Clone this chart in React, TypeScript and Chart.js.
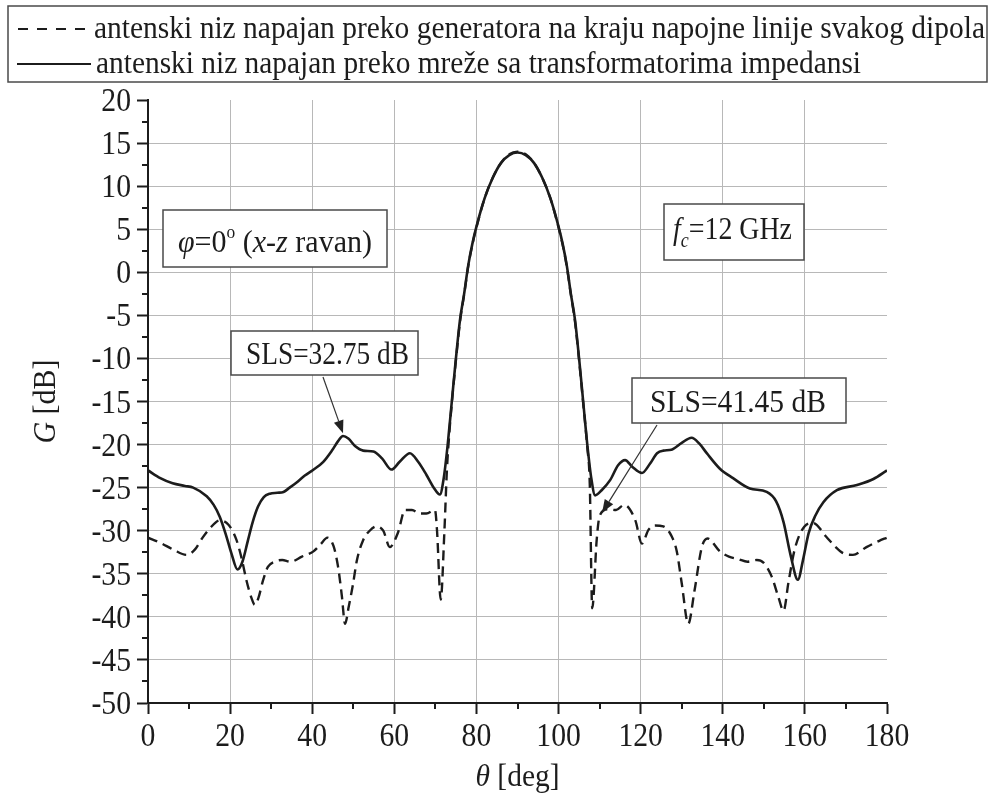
import React, { useEffect, useRef } from "react";
import { Chart, registerables } from "chart.js";
Chart.register(...registerables);

// ---- data ----
const thetaSolid = [
  0, 3, 6, 9, 11, 14.3, 16, 17.5, 19, 20.3, 21.8, 23, 24.3, 25.5, 26.8, 28.2, 29.7, 31.5, 33, 34.5,
  36.2, 38.2, 40.2, 42.7, 44.8, 46.3, 47.5, 48.8, 50.5, 52.4, 54.9, 57, 59.3, 61.3, 63.8, 65.8, 67.8, 69.6, 71.1, 72,
  73, 74, 75, 76, 77, 78, 79, 80, 82, 84, 86, 88, 90, 92, 94, 96, 98, 100, 101, 102,
  103, 104, 105, 106, 107, 108, 108.9, 110.5, 112.6, 114.5, 116.2, 118, 120.3, 122.3, 124, 125.5, 127.5, 130, 132.4, 134.3,
  136.1, 139.3, 142.5, 146.6, 150.7, 153, 154.8, 156.5, 158.3, 159.5, 160.9, 162.5, 164.5, 167.8, 172.7, 176.7, 180,
];
const gainSolid = [
  -23.0, -23.9, -24.5, -24.8, -25.0, -26.0, -27.0, -28.4, -30.5, -32.6, -34.5, -33.6, -31.2, -29.0, -27.2, -26.1, -25.7, -25.6, -25.5, -25.0,
  -24.4, -23.6, -22.95, -22.0, -20.7, -19.6, -19.0, -19.3, -20.2, -20.7, -20.8, -21.6, -22.9, -22.0, -21.0, -22.0, -23.5, -25.0, -25.8, -24.0,
  -20.0, -15.0, -10.0, -5.5, -2.5, 0.8, 3.3, 5.3, 8.6, 11.0, 12.7, 13.6, 13.9, 13.6, 12.7, 11.0, 8.6, 5.3, 3.3, 0.8,
  -2.5, -5.5, -10.0, -15.0, -20.0, -24.0, -25.9, -25.3, -24.1, -22.4, -21.8, -22.6, -23.3, -22.2, -21.0, -20.7, -20.6, -19.8, -19.2, -19.9,
  -21.0, -22.8, -23.9, -25.1, -25.5, -26.6, -29.0, -32.8, -35.7, -33.5, -30.3, -28.3, -26.7, -25.3, -24.7, -24.0, -23.0,
];

const thetaDashed = [
  0, 3, 6.2, 9.4, 11.4, 13.3, 15.1, 17.5, 19.6, 21.5, 22.8, 24, 25.2, 26, 26.9, 28, 29.2, 30.8, 32.7, 34.7,
  37.5, 40.3, 42, 43.7, 45.2, 46.3, 47.2, 48, 48.9, 49.9, 50.9, 52.4, 54, 55.7, 57.3, 58.9, 60.9, 62.6, 64.3, 66.2,
  67.8, 69.9, 70.4, 71.3, 72.2, 72.8, 73.5, 74, 75, 76, 77, 78, 79, 80, 82, 84, 86, 88, 90, 92,
  94, 96, 98, 100, 101, 102, 103, 104, 105, 106, 107, 107.6, 108.2, 109.3, 110, 112, 114, 116, 118.7, 120.3,
  121.9, 123.5, 125.5, 127.5, 128.8, 130, 131.6, 133.1, 134.9, 136.3, 139.3, 141.5, 143.8, 146, 148.3, 149.9, 151.9, 153.6, 154.8, 156,
  157.5, 159.9, 162, 165.2, 167.5, 169.3, 171.7, 175, 178, 180,
];
const gainDashed = [
  -30.8, -31.4, -32.2, -32.8, -32.2, -30.8, -29.7, -28.8, -29.3, -31.0, -33.2, -35.8, -37.8, -38.6, -37.8, -35.8, -34.2, -33.6, -33.4, -33.6,
  -33.0, -32.4, -31.6, -30.8, -31.8, -34.2, -37.5, -40.8, -38.8, -36.3, -33.4, -31.1, -30.0, -29.5, -30.0, -31.9, -30.2, -27.6, -27.6, -28.0,
  -28.0, -27.6, -30.0, -38.0, -30.0, -23.0, -18.0, -15.2, -10.2, -5.7, -2.6, 0.7, 3.2, 5.2, 8.6, 11.0, 12.7, 13.7, 14.0, 13.7,
  12.7, 11.0, 8.6, 5.2, 3.2, 0.7, -2.6, -5.7, -10.2, -15.2, -20.3, -24.5, -39.0, -31.0, -28.3, -27.5, -27.6, -27.0, -28.8, -31.5,
  -29.9, -29.4, -29.5, -30.6, -32.4, -36.1, -40.8, -37.0, -31.9, -30.9, -32.4, -33.0, -33.3, -33.6, -33.4, -33.7, -35.3, -37.8, -39.3, -36.0,
  -32.2, -29.5, -29.1, -30.7, -31.9, -32.6, -32.8, -31.9, -31.2, -30.8,
];

const xTickValues = [0, 20, 40, 60, 80, 100, 120, 140, 160, 180];
const yTickValues = [-50, -45, -40, -35, -30, -25, -20, -15, -10, -5, 0, 5, 10, 15, 20];

const legendDashed = "antenski niz napajan preko generatora na kraju napojne linije svakog dipola";
const legendSolid = "antenski niz napajan preko mreže sa transformatorima impedansi";
const sls1Text = "SLS=32.75 dB";
const sls2Text = "SLS=41.45 dB";
const sls1Point = { x: 47.5, y: -18.7 };
const sls2Point = { x: 110.6, y: -27.9 };

// ---- drawing helpers ----
const FAM = "'Liberation Serif', 'Times New Roman', serif";
const INK = "#1c1c1c";

type Run = { t: string; it?: boolean; size?: number; dy?: number };

function fontOf(r: Run, base: number) {
  return `${r.it ? "italic " : ""}${r.size || base}px ${FAM}`;
}

function drawRuns(
  ctx: CanvasRenderingContext2D,
  runs: Run[],
  x: number,
  y: number,
  base: number,
  targetW?: number,
  align: "left" | "center" | "right" = "left",
  sxFixed?: number
) {
  let total = 0;
  const ws = runs.map((r) => {
    ctx.font = fontOf(r, base);
    const w = ctx.measureText(r.t).width;
    total += w;
    return w;
  });
  const sx = sxFixed ? sxFixed : targetW ? targetW / total : 1;
  const W = total * sx;
  const x0 = align === "center" ? x - W / 2 : align === "right" ? x - W : x;
  ctx.save();
  ctx.translate(x0, y);
  ctx.scale(sx, 1);
  ctx.fillStyle = INK;
  ctx.textBaseline = "alphabetic";
  ctx.textAlign = "left";
  let cx = 0;
  runs.forEach((r, i) => {
    ctx.font = fontOf(r, base);
    ctx.fillText(r.t, cx, r.dy || 0);
    cx += ws[i];
  });
  ctx.restore();
}

function box(ctx: CanvasRenderingContext2D, x: number, y: number, w: number, h: number) {
  ctx.save();
  ctx.fillStyle = "#ffffff";
  ctx.fillRect(x, y, w, h);
  ctx.strokeStyle = "#4a4a4a";
  ctx.lineWidth = 1.5;
  ctx.strokeRect(x, y, w, h);
  ctx.restore();
}

function arrow(ctx: CanvasRenderingContext2D, x1: number, y1: number, x2: number, y2: number) {
  const ang = Math.atan2(y2 - y1, x2 - x1);
  const L = 13, W = 5;
  ctx.save();
  ctx.strokeStyle = "#333";
  ctx.fillStyle = "#222";
  ctx.lineWidth = 1.2;
  ctx.beginPath();
  ctx.moveTo(x1, y1);
  ctx.lineTo(x2 - L * Math.cos(ang), y2 - L * Math.sin(ang));
  ctx.stroke();
  ctx.beginPath();
  ctx.moveTo(x2, y2);
  ctx.lineTo(x2 - L * Math.cos(ang) + W * Math.sin(ang), y2 - L * Math.sin(ang) - W * Math.cos(ang));
  ctx.lineTo(x2 - L * Math.cos(ang) - W * Math.sin(ang), y2 - L * Math.sin(ang) + W * Math.cos(ang));
  ctx.closePath();
  ctx.fill();
  ctx.restore();
}

const decorPlugin = {
  id: "decor",
  afterDraw(chart: any) {
    const ctx: CanvasRenderingContext2D = chart.ctx;
    const xs = chart.scales.x;
    const ys = chart.scales.y;
    const ca = chart.chartArea;

    // minor ticks
    ctx.save();
    ctx.strokeStyle = INK;
    ctx.lineWidth = 2;
    ctx.beginPath();
    for (let v = -47.5; v < 20; v += 5) {
      const py = Math.round(ys.getPixelForValue(v));
      ctx.moveTo(ca.left, py);
      ctx.lineTo(ca.left - 6, py);
    }
    for (let v = 10; v < 180; v += 20) {
      const px = Math.round(xs.getPixelForValue(v));
      ctx.moveTo(px, ca.bottom);
      ctx.lineTo(px, ca.bottom + 6);
    }
    ctx.stroke();
    ctx.restore();

    // tick labels (condensed serif)
    yTickValues.forEach((v) => {
      drawRuns(ctx, [{ t: String(v) }], ca.left - 17, ys.getPixelForValue(v) + 11, 33, undefined, "right", 0.9);
    });
    xTickValues.forEach((v) => {
      drawRuns(ctx, [{ t: String(v) }], xs.getPixelForValue(v), ca.bottom + 43, 33, undefined, "center", 0.9);
    });

    // axis titles
    drawRuns(ctx, [{ t: "θ", it: true }, { t: " [deg]" }], (ca.left + ca.right) / 2, 786, 32, 84, "center");
    ctx.save();
    ctx.translate(55, (ca.top + ca.bottom) / 2);
    ctx.rotate(-Math.PI / 2);
    drawRuns(ctx, [{ t: "G", it: true }, { t: " [dB]" }], 0, 0, 32, 84, "center");
    ctx.restore();

    // legend
    box(ctx, 8, 6, 979, 76);
    ctx.save();
    ctx.strokeStyle = INK;
    ctx.lineWidth = 2;
    ctx.setLineDash([10, 9]);
    ctx.beginPath();
    ctx.moveTo(18, 29);
    ctx.lineTo(92, 29);
    ctx.stroke();
    ctx.setLineDash([]);
    ctx.beginPath();
    ctx.moveTo(17, 64);
    ctx.lineTo(91, 64);
    ctx.stroke();
    ctx.restore();
    drawRuns(ctx, [{ t: legendDashed }], 94, 38, 31, 891);
    drawRuns(ctx, [{ t: legendSolid }], 96, 73, 31, 765);

    // φ box
    box(ctx, 163, 210, 224, 57);
    drawRuns(
      ctx,
      [
        { t: "φ", it: true },
        { t: "=0" },
        { t: "o", size: 18, dy: -14 },
        { t: " (" },
        { t: "x-z", it: true },
        { t: " ravan)" },
      ],
      178,
      252,
      31,
      194
    );

    // fc box
    box(ctx, 664, 204, 140, 56);
    drawRuns(ctx, [{ t: "f", it: true }, { t: "c", it: true, size: 20, dy: 8 }, { t: "=12 GHz" }], 673, 239, 31, 119);

    // SLS boxes + arrows
    box(ctx, 231, 331, 187, 44);
    drawRuns(ctx, [{ t: sls1Text }], 246, 364, 31, 163);
    arrow(ctx, 323, 377, xs.getPixelForValue(sls1Point.x), ys.getPixelForValue(sls1Point.y));

    box(ctx, 632, 378, 214, 45);
    drawRuns(ctx, [{ t: sls2Text }], 650, 412, 31, 176);
    arrow(ctx, 657, 425, xs.getPixelForValue(sls2Point.x), ys.getPixelForValue(sls2Point.y));
  },
};

export default function App() {
  const ref = useRef<HTMLCanvasElement | null>(null);
  useEffect(() => {
    if (!ref.current) return;
    const chart = new Chart(ref.current, {
      type: "line",
      data: {
        datasets: [
          {
            label: "solid",
            data: thetaSolid.map((x, i) => ({ x, y: gainSolid[i] })),
            borderColor: INK,
            borderWidth: 2.6,
            pointRadius: 0,
            fill: false,
            cubicInterpolationMode: "monotone",
          },
          {
            label: "dashed",
            data: thetaDashed.map((x, i) => ({ x, y: gainDashed[i] })),
            borderColor: INK,
            borderWidth: 2.4,
            borderDash: [10, 6],
            pointRadius: 0,
            fill: false,
            cubicInterpolationMode: "monotone",
          },
        ],
      },
      options: {
        responsive: false,
        devicePixelRatio: 1,
        animation: false,
        layout: { padding: { top: 100, right: 104, left: 0, bottom: 0 } },
        plugins: { legend: { display: false }, tooltip: { enabled: false } },
        scales: {
          x: {
            type: "linear",
            min: 0,
            max: 180,
            afterBuildTicks: (s: any) => {
              s.ticks = xTickValues.map((v) => ({ value: v }));
            },
            afterFit: (s: any) => {
              s.height = 100;
            },
            ticks: { display: false },
            grid: {
              color: (c: any) => (c.tick && (c.tick.value === 0 || c.tick.value === 180) ? "rgba(0,0,0,0)" : "#b8b8b8"),
              lineWidth: 1,
              drawTicks: true,
              tickLength: 11,
              tickColor: INK,
              tickWidth: 2,
            },
            border: { display: true, color: INK, width: 2 },
          },
          y: {
            type: "linear",
            min: -50,
            max: 20,
            afterBuildTicks: (s: any) => {
              s.ticks = yTickValues.map((v) => ({ value: v }));
            },
            afterFit: (s: any) => {
              s.width = 148;
            },
            ticks: { display: false },
            grid: {
              color: (c: any) => (c.tick && (c.tick.value === 20 || c.tick.value === -50) ? "rgba(0,0,0,0)" : "#b8b8b8"),
              lineWidth: 1,
              drawTicks: true,
              tickLength: 11,
              tickColor: INK,
              tickWidth: 2,
            },
            border: { display: true, color: INK, width: 2 },
          },
        },
      },
      plugins: [decorPlugin],
    } as any);
    return () => chart.destroy();
  }, []);
  return (
    <div style={{ position: "fixed", left: 0, top: 0, width: 991, height: 803, background: "#fff" }}>
      <canvas ref={ref} width={991} height={803} style={{ display: "block", width: 991, height: 803 }} />
    </div>
  );
}
